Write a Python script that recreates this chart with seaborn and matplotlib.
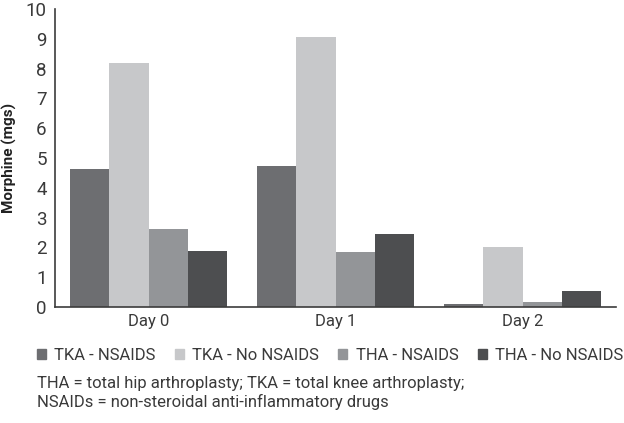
import numpy as np
import pandas as pd
import matplotlib.pyplot as plt
import seaborn as sns

# Data
days = ["Day 0", "Day 1", "Day 2"]
tka_nsaids = [4.63, 4.72, 0.11]
tka_no_nsaids = [8.18, 9.07, 2.01]
tha_nsaids = [2.61, 1.86, 0.16]
tha_no_nsaids = [1.87, 2.44, 0.55]

groups = ["TKA - NSAIDS", "TKA - No NSAIDS", "THA - NSAIDS", "THA - No NSAIDS"]
colors = ["#6d6e71", "#c7c8ca", "#939598", "#4d4e50"]

rows = []
for g, vals in zip(groups, [tka_nsaids, tka_no_nsaids, tha_nsaids, tha_no_nsaids]):
    for d, v in zip(days, vals):
        rows.append({"Day": d, "Group": g, "Morphine": v})
df = pd.DataFrame(rows)

sns.set_style("white")
plt.rcParams['font.family'] = ['Roboto', 'DejaVu Sans']

fig = plt.figure(figsize=(6.24, 4.23), dpi=100)
ax = fig.add_axes([55 / 624, 1 - 307 / 423, (616 - 55) / 624, 298 / 423])

sns.barplot(data=df, x="Day", y="Morphine", hue="Group", hue_order=groups,
            palette=colors, width=0.84, saturation=1, linewidth=0,
            ax=ax, legend=False)

ax.set_xlim(-0.5, 2.5)
ax.set_ylim(0, 10)
ax.set_yticks(range(0, 11))
ax.tick_params(axis='y', labelsize=13.5, colors="#3a3a3a", length=0, pad=6)
ax.tick_params(axis='x', labelsize=12, colors="#3a3a3a", length=0, pad=5)
ax.set_xlabel("")
ax.set_ylabel("Morphine (mgs)", fontsize=11, fontweight="bold", color="#222222", labelpad=6)

for s in ["top", "right"]:
    ax.spines[s].set_visible(False)
for s in ["left", "bottom"]:
    ax.spines[s].set_color("#3c3c3c")
    ax.spines[s].set_linewidth(1.2)

handles = [plt.Rectangle((0, 0), 1, 1, color=c) for c in colors]
fig.legend(handles, groups, loc="center left", bbox_to_anchor=(30 / 624, 1 - 355 / 423),
           ncol=4, frameon=False, fontsize=12, handlelength=0.55, handleheight=0.55,
           handletextpad=0.5, columnspacing=1.15, labelcolor="#3a3a3a",
           borderaxespad=0)

fig.text(37 / 624, 1 - 393 / 423,
         "THA = total hip arthroplasty; TKA = total knee arthroplasty;\n"
         "NSAIDs = non-steroidal anti-inflammatory drugs",
         fontsize=12, color="#3a3a3a", va="center", ha="left", linespacing=1.2)

fig.savefig("out.png", dpi=100)
